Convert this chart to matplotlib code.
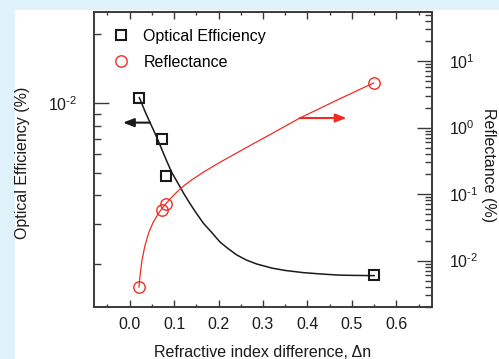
import matplotlib
matplotlib.use('Agg')
import matplotlib.pyplot as plt
import numpy as np
from matplotlib.lines import Line2D
from matplotlib.patches import Rectangle
from matplotlib.ticker import (AutoMinorLocator, FormatStrFormatter, FuncFormatter,
                               LogLocator, MultipleLocator, NullFormatter)

# measured points
delta_n = [0.021, 0.073, 0.081, 0.55]
optical_efficiency = [1.06e-2, 6.98e-3, 4.83e-3, 1.80e-3]
reflectance = [4.0e-3, 0.0585, 0.072, 4.65]

# fitted curves
oe_fit_x = [0.022, 0.035, 0.046, 0.058, 0.069, 0.082, 0.095, 0.11, 0.123,
            0.136, 0.15, 0.166, 0.185, 0.2035, 0.222, 0.241, 0.263, 0.286,
            0.32, 0.35, 0.39, 0.43, 0.47, 0.50, 0.55]
oe_fit_y = [10.6e-3, 9.2e-3, 8.25e-3, 7.35e-3, 6.55e-3, 5.7e-3, 5.0e-3,
            4.45e-3, 4.02e-3, 3.66e-3, 3.33e-3, 3.01e-3, 2.74e-3, 2.49e-3,
            2.33e-3, 2.19e-3, 2.08e-3, 2.0e-3, 1.92e-3, 1.875e-3, 1.835e-3,
            1.81e-3, 1.79e-3, 1.785e-3, 1.78e-3]
refl_fit_x = [0.0211, 0.0231, 0.0256, 0.0285, 0.0346, 0.0435, 0.0532, 0.0644,
              0.0718, 0.0801, 0.0913, 0.1063, 0.1205, 0.1362, 0.166, 0.2035,
              0.241, 0.278, 0.3157, 0.383, 0.4653, 0.5362, 0.549]
refl_fit_y = [4.0e-3, 5.55e-3, 7.71e-3, 0.0106, 0.0168, 0.0267, 0.0377, 0.0504,
              0.0593, 0.0695, 0.0847, 0.107, 0.1305, 0.157, 0.213, 0.3007,
              0.415, 0.569, 0.782, 1.39, 2.56, 4.28, 4.67]

BLACK = '#1a1a1a'
RED = '#ee2d24'
PANEL_BLUE = '#dff1f9'

plt.rcParams['font.family'] = 'Liberation Sans'
plt.rcParams['font.size'] = 11.5
plt.rcParams['mathtext.fontset'] = 'custom'
plt.rcParams['mathtext.rm'] = 'Liberation Sans'
plt.rcParams['mathtext.it'] = 'Liberation Sans:italic'
plt.rcParams['mathtext.bf'] = 'Liberation Sans:bold'


def decade_label(value, _pos):
  """10^n with a short hyphen in the exponent, like the original."""
  exponent = int(round(np.log10(value)))
  sign = '\u2010' if exponent < 0 else ''
  return f'$\\mathregular{{10^{{{sign}{abs(exponent)}}}}}$'


fig, ax = plt.subplots(figsize=(4.99, 3.59), dpi=100)
fig.patch.set_facecolor(PANEL_BLUE)
fig.add_artist(Rectangle((15 / 499, 0), 1, 349 / 359, transform=fig.transFigure,
                         facecolor='white', edgecolor='none', zorder=-10))
fig.subplots_adjust(left=94 / 499, right=432 / 499, bottom=52 / 359, top=347 / 359)
ax2 = ax.twinx()

arrow_style = '-|>,head_length=0.65,head_width=0.25'

# optical efficiency on the left axis
ax.plot(oe_fit_x, oe_fit_y, color=BLACK, lw=1.1)
ax.plot(delta_n, optical_efficiency, ls='none', marker='s', ms=7.2,
        mfc='none', mec=BLACK, mew=1.5)
i = oe_fit_x.index(0.046)
ax.annotate('', xy=(oe_fit_x[i] - 0.061, oe_fit_y[i]), xytext=(oe_fit_x[i], oe_fit_y[i]),
            arrowprops=dict(arrowstyle=arrow_style, color=BLACK, lw=1.5,
                            shrinkA=0, shrinkB=0, mutation_scale=10))

# reflectance on the right axis
ax2.plot(refl_fit_x, refl_fit_y, color=RED, lw=0.9)
ax2.plot(delta_n, reflectance, ls='none', marker='o', ms=8.2,
         mfc='none', mec=RED, mew=1.0)
j = refl_fit_x.index(0.383)
ax2.annotate('', xy=(refl_fit_x[j] + 0.105, refl_fit_y[j]),
             xytext=(refl_fit_x[j], refl_fit_y[j]),
             arrowprops=dict(arrowstyle=arrow_style, color=RED, lw=1.5,
                             shrinkA=0, shrinkB=0, mutation_scale=10))

ax.set_xlim(-0.08, 0.68)
ax.set_yscale('log')
ax.set_ylim(1.3e-3, 2.5e-2)
ax2.set_yscale('log')
ax2.set_ylim(2e-3, 54.6)

ax.xaxis.set_major_locator(MultipleLocator(0.1))
ax.xaxis.set_minor_locator(AutoMinorLocator(2))
ax.xaxis.set_major_formatter(FormatStrFormatter('%.1f'))
for axis in (ax, ax2):
  axis.yaxis.set_major_locator(LogLocator(base=10, numticks=12))
  axis.yaxis.set_minor_locator(LogLocator(base=10, subs=np.arange(2, 10), numticks=12))
  axis.yaxis.set_major_formatter(FuncFormatter(decade_label))
  axis.yaxis.set_minor_formatter(NullFormatter())
  for spine in axis.spines.values():
    spine.set_color('#3a3a3a')
    spine.set_linewidth(1.2)

ax.tick_params(axis='x', which='major', direction='in', length=5, width=1,
               top=True, pad=7.5, colors='#3a3a3a', labelcolor='#1a1a1a')
ax.tick_params(axis='x', which='minor', direction='in', length=2.5, width=1,
               top=True, colors='#3a3a3a')
for axis in (ax, ax2):
  axis.tick_params(axis='y', which='major', direction='in', length=11, width=1,
                   pad=12, colors='#3a3a3a', labelcolor='#1a1a1a')
  axis.tick_params(axis='y', which='minor', direction='in', length=5, width=1,
                   colors='#3a3a3a')

ax.set_xlabel('Refractive index difference, Δn', color='#1a1a1a')
ax.xaxis.set_label_coords(0.5, -0.128)
ax.set_ylabel('Optical Efficiency (%)', color='#1a1a1a', va='bottom')
ax.yaxis.set_label_coords(-0.188, 0.49)
ax2.set_ylabel('Reflectance (%)', rotation=270, va='bottom', color='#1a1a1a')
ax2.yaxis.set_label_coords(1.145, 0.48)

handles = [
  Line2D([], [], ls='none', marker='s', ms=7.2, mfc='none', mec=BLACK, mew=1.5),
  Line2D([], [], ls='none', marker='o', ms=8.2, mfc='none', mec=RED, mew=1.0),
]
ax2.legend(handles, ['Optical Efficiency', 'Reflectance'], loc='upper left',
           bbox_to_anchor=(0.056, 0.944), frameon=False, borderpad=0,
           borderaxespad=0, handlelength=1.0, handletextpad=0.9, labelspacing=0.7)

fig.savefig('out.png', dpi=100, facecolor=fig.get_facecolor())
